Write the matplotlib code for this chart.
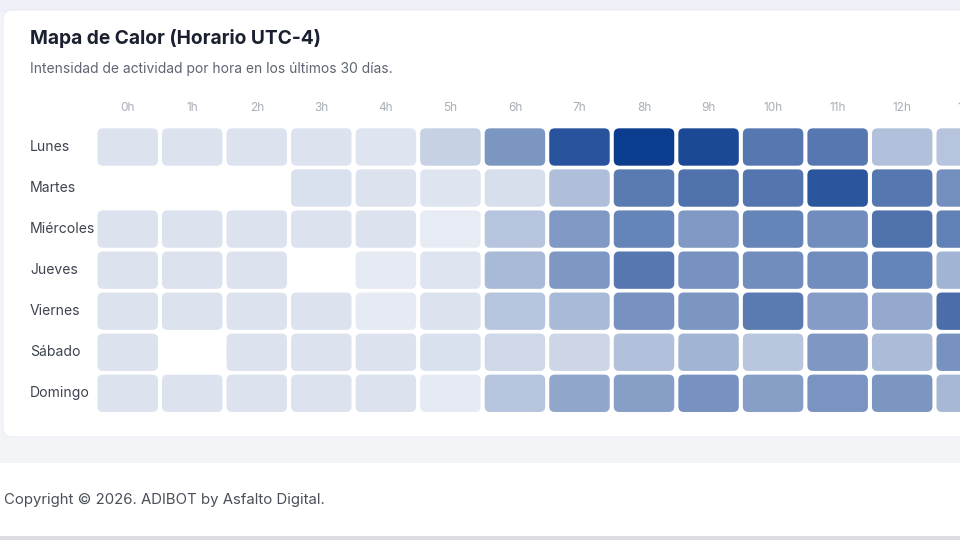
import numpy as np
import matplotlib
matplotlib.use("Agg")
import matplotlib.pyplot as plt
from matplotlib.patches import FancyBboxPatch, Rectangle
from matplotlib.transforms import blended_transform_factory

plt.rcParams['font.family'] = ['Inter', 'DejaVu Sans']

# ---------------------------------------------------------------------------
# Data: activity intensity (0-100) per hour, None = no activity recorded
# ---------------------------------------------------------------------------
dias = ['Lunes', 'Martes', 'Miércoles', 'Jueves', 'Viernes', 'Sábado', 'Domingo']
horas = ['0h', '1h', '2h', '3h', '4h', '5h', '6h', '7h', '8h', '9h', '10h', '11h', '12h', '13h']

lunes     = [7, 7, 7, 7, 6, 17, 50, 87, 100, 93, 67, 67, 26, 24]
martes    = [None, None, None, 8, 7, 6, 9, 27, 65, 70, 68, 86, 67, 54]
miercoles = [7, 7, 7, 7, 7, 2, 24, 48, 60, 48, 60, 55, 70, 62]
jueves    = [7, 7, 7, None, 3, 6, 30, 49, 67, 52, 55, 55, 60, 33]
viernes   = [7, 7, 7, 7, 3, 7, 24, 30, 52, 50, 65, 46, 39, 72]
sabado    = [7, None, 7, 7, 7, 8, 13, 14, 26, 33, 23, 49, 29, 52]
domingo   = [7, 7, 7, 7, 7, 3, 24, 41, 45, 52, 45, 51, 50, 31]

actividad = np.array([lunes, martes, miercoles, jueves, viernes, sabado, domingo],
                     dtype=float)

# ---------------------------------------------------------------------------
# Figure + page background (pixel coordinates on a full-figure axes)
# ---------------------------------------------------------------------------
W, H = 960, 540
fig = plt.figure(figsize=(9.6, 5.4), dpi=100)
fig.patch.set_facecolor('#F3F4F8')

bg = fig.add_axes([0, 0, 1, 1])
bg.set_xlim(0, W)
bg.set_ylim(H, 0)
bg.axis('off')

# top strip of the page
bg.add_patch(Rectangle((0, 0), W, 12, facecolor='#EDF0F7', edgecolor='none'))
# white card holding the heatmap
bg.add_patch(FancyBboxPatch((3, 10), W + 40, 427,
                            boxstyle='round,pad=0,rounding_size=9',
                            facecolor='white', edgecolor='#E9ECF2', linewidth=0.8))
# footer
bg.add_patch(Rectangle((0, 463), W, 73, facecolor='white', edgecolor='none'))
bg.add_patch(Rectangle((0, 536), W, 4, facecolor='#DCDDE0', edgecolor='none'))

bg.text(30, 39, 'Mapa de Calor (Horario UTC-4)', fontsize=13.8, fontweight='bold',
        color='#1B2030', va='center', ha='left')
bg.text(30, 69, 'Intensidad de actividad por hora en los últimos 30 días.',
        fontsize=9.95, color='#5E6572', va='center', ha='left')
bg.text(4, 500, 'Copyright © 2026. ADIBOT by Asfalto Digital.',
        fontsize=10.75, color='#4A4F59', va='center', ha='left')

# ---------------------------------------------------------------------------
# Heatmap axes (extends past the right edge, like the cropped screenshot)
# ---------------------------------------------------------------------------
col_px, row_px = 64.54, 41.05
left_px, top_px = 127.7 - col_px / 2, 147.0 - row_px / 2
n_rows, n_cols = actividad.shape

ax = fig.add_axes([left_px / W, 1 - (top_px + n_rows * row_px) / H,
                   n_cols * col_px / W, n_rows * row_px / H])
ax.set_xlim(-0.5, n_cols - 0.5)
ax.set_ylim(n_rows - 0.5, -0.5)
ax.axis('off')

base = np.array([12, 60, 142]) / 255
cw, ch = 0.937, 0.91
aspect = col_px / row_px
for i in range(n_rows):
    for j in range(n_cols):
        v = actividad[i, j]
        if np.isnan(v):
            continue
        a = 0.08 + 0.92 * v / 100
        color = 1 - (1 - base) * a
        ax.add_patch(FancyBboxPatch((j - cw / 2, i - ch / 2), cw, ch,
                                    boxstyle='round,pad=0,rounding_size=0.085',
                                    mutation_aspect=aspect,
                                    facecolor=color, edgecolor='none'))

for j, h in enumerate(horas):
    ax.text(j, -0.95, h, ha='center', va='center', fontsize=8.5, color='#A9AEB8',
            clip_on=False)

trans = blended_transform_factory(fig.transFigure, ax.transData)
for i, d in enumerate(dias):
    fig.text(30 / W, i, d, transform=trans, ha='left', va='center',
             fontsize=10.1, color='#3E4450')

fig.savefig('out.png', dpi=100, facecolor=fig.get_facecolor())
